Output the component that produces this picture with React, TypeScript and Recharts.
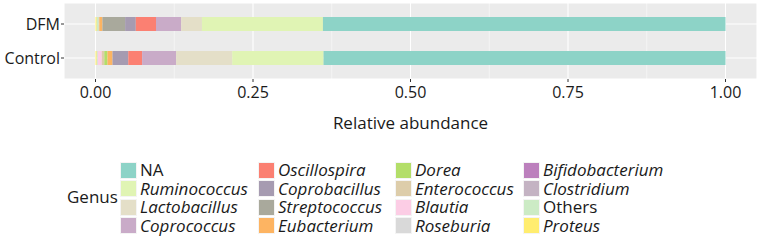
import React from 'react';
import { BarChart, Bar, XAxis, YAxis, CartesianGrid } from 'recharts';

// stacking order: first genus sits next to 0, last one reaches 1.00
const genera = [
  'Proteus', 'Others', 'Clostridium', 'Bifidobacterium', 'Roseburia', 'Blautia',
  'Enterococcus', 'Dorea', 'Eubacterium', 'Streptococcus', 'Coprobacillus',
  'Oscillospira', 'Coprococcus', 'Lactobacillus', 'Ruminococcus', 'NA',
];
const groups = ['DFM', 'Control'];
const dfmValues = [0.002, 0.003, 0, 0, 0, 0, 0.001, 0, 0.005, 0.036, 0.017, 0.032, 0.04, 0.033, 0.192, 0.639];
const controlValues = [0.002, 0.001, 0, 0, 0.001, 0.006, 0.004, 0.005, 0.008, 0, 0.025, 0.022, 0.054, 0.089, 0.145, 0.638];
const genusColors = [
  '#FFED6F', '#CCEBC5', '#C4B3C3', '#BC80BD', '#D9D9D9', '#FCCDE5',
  '#DDCDAA', '#B3DE69', '#FDB462', '#A9A99C', '#A69BB1',
  '#FB8072', '#C9ABC8', '#E4DFC8', '#E0F4B4', '#8DD3C7',
];
const xDomain = [-0.05, 1.05];
const xTicks = [0, 0.25, 0.5, 0.75, 1];
const minorTicks = [0.125, 0.375, 0.625, 0.875];
// legend columns as printed (top to bottom, left to right)
const legendOrder = [
  'NA', 'Ruminococcus', 'Lactobacillus', 'Coprococcus',
  'Oscillospira', 'Coprobacillus', 'Streptococcus', 'Eubacterium',
  'Dorea', 'Enterococcus', 'Blautia', 'Roseburia',
  'Bifidobacterium', 'Clostridium', 'Others', 'Proteus',
];

const valuesByGroup = [dfmValues, controlValues];
const data = groups.map((g, gi) => {
  const row: Record<string, number | string> = { group: g };
  genera.forEach((name, i) => { row[name] = valuesByGroup[gi][i]; });
  return row;
});

const font = '"Open Sans", sans-serif';
const legendCols = [120, 258, 395, 523];

const minorGridX = ({ xAxis, offset }: any) => {
  if (xAxis && typeof xAxis.scale === 'function') return minorTicks.map((v) => xAxis.scale(v));
  const span = xDomain[1] - xDomain[0];
  return minorTicks.map((v) => offset.left + ((v - xDomain[0]) / span) * offset.width);
};

const Legend = () => (
  <div style={{ position: 'absolute', left: 0, top: 0, width: 765, height: 242, pointerEvents: 'none' }}>
    <div style={{ position: 'absolute', left: 67, top: 188, fontSize: 17, lineHeight: '18px', fontFamily: font, color: '#1a1a1a' }}>Genus</div>
    {legendOrder.map((name, i) => {
      const col = Math.floor(i / 4);
      const row = i % 4;
      const color = genusColors[genera.indexOf(name)];
      const italic = name !== 'NA' && name !== 'Others';
      return (
        <div key={name} style={{ position: 'absolute', left: legendCols[col], top: 161 + row * 18.5, display: 'flex', alignItems: 'center', height: 18 }}>
          <div style={{ width: 17, height: 17, background: color, border: '0.5px solid #f4f4f4', boxSizing: 'border-box' }} />
          <span style={{ marginLeft: 3, fontSize: 17, lineHeight: '18px', fontFamily: font, fontStyle: italic ? 'italic' : 'normal', color: '#1a1a1a', whiteSpace: 'nowrap' }}>{name}</span>
        </div>
      );
    })}
  </div>
);

const App = () => {
  return (
    <div style={{ position: 'absolute', left: 0, top: 0, width: 765, height: 242, background: '#fff', fontFamily: font }}>
      <BarChart
        width={765}
        height={242}
        layout="vertical"
        data={data}
        margin={{ top: 3, right: 8, left: 0, bottom: 111 }}
      >
        <CartesianGrid
          fill="#EBEBEB"
          stroke="#ffffff"
          strokeWidth={0.5}
          horizontal={false}
          verticalCoordinatesGenerator={minorGridX}
        />
        <CartesianGrid stroke="#ffffff" strokeWidth={1.1} />
        <XAxis
          type="number"
          domain={xDomain}
          ticks={xTicks}
          allowDataOverflow
          tickFormatter={(v: number) => v.toFixed(2)}
          axisLine={false}
          tickSize={3}
          tickMargin={5}
          tickLine={{ stroke: '#333' }}
          tick={{ fill: '#1a1a1a', fontSize: 16, fontFamily: font }}
          height={52}
          label={{ value: 'Relative abundance', position: 'insideBottom', offset: 2, fill: '#1a1a1a', fontSize: 17, fontFamily: font }}
        />
        <YAxis
          type="category"
          dataKey="group"
          width={64}
          padding={{ top: 4, bottom: 4 }}
          axisLine={false}
          tickSize={3}
          tickMargin={1}
          tickLine={{ stroke: '#333' }}
          tick={{ fill: '#1a1a1a', fontSize: 16, fontFamily: font }}
        />
        {genera.map((name, i) => (
          <Bar key={name} dataKey={name} stackId="a" fill={genusColors[i]} barSize={14} isAnimationActive={false} />
        ))}
      </BarChart>
      <Legend />
    </div>
  );
};

export default App;
